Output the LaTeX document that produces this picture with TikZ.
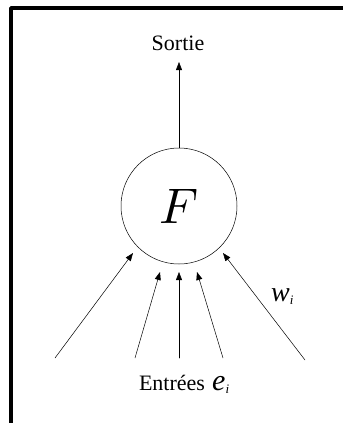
\documentclass[tikz,border=0pt]{standalone}
\usepackage{fontspec}
\setmainfont{Liberation Serif}
\usetikzlibrary{arrows.meta}

\begin{document}
\begin{tikzpicture}[x=1pt,y=-1pt,line cap=round,line join=round,
  wire/.style={line width=0.5pt,-{Triangle[length=8pt,width=6pt]}},
  lbl/.style={anchor=base,inner sep=0pt,font=\fontsize{22}{24}\selectfont}]
  \useasboundingbox (0,0) rectangle (343,423);

  % Frame
  \draw[line width=3.6pt,line cap=butt] (11,423) -- (11,8) -- (343,8);

  % Neuron
  \node[draw,circle,line width=0.5pt,minimum size=116pt,inner sep=0pt] (F) at (179,206)
    {\scalebox{5}{$F$}};

  % Output
  \coordinate (out) at (179,62);
  \node[lbl] (sortie) at (178,50) {Sortie};
  \draw[wire] (F.north) -- (out);

  % Inputs
  \coordinate (in1) at (55,358);
  \coordinate (in2) at (135,358);
  \coordinate (in3) at (179,358);
  \coordinate (in4) at (223,358);
  \coordinate (in5) at (305,360);
  \coordinate (tip1) at (133,253);
  \coordinate (tip2) at (160,272);
  \coordinate (tip3) at (179,272);
  \coordinate (tip4) at (197,272);
  \coordinate (tip5) at (223,253);
  \foreach \i in {1,...,5}
    \draw[wire] (in\i) -- (tip\i);

  % Labels
  \node[lbl] (entrees) at (172,390) {Entrées};
  \node[anchor=base west,inner sep=0pt] (ei) at (212,390)
    {\fontsize{30}{32}\selectfont\itshape e\raisebox{-3pt}{\fontsize{13}{14}\selectfont i}};
  \node[anchor=base west,inner sep=0pt] (wi) at (271,301)
    {\fontsize{28}{30}\selectfont\itshape w\raisebox{-3pt}{\fontsize{13}{14}\selectfont i}};
\end{tikzpicture}
\end{document}
